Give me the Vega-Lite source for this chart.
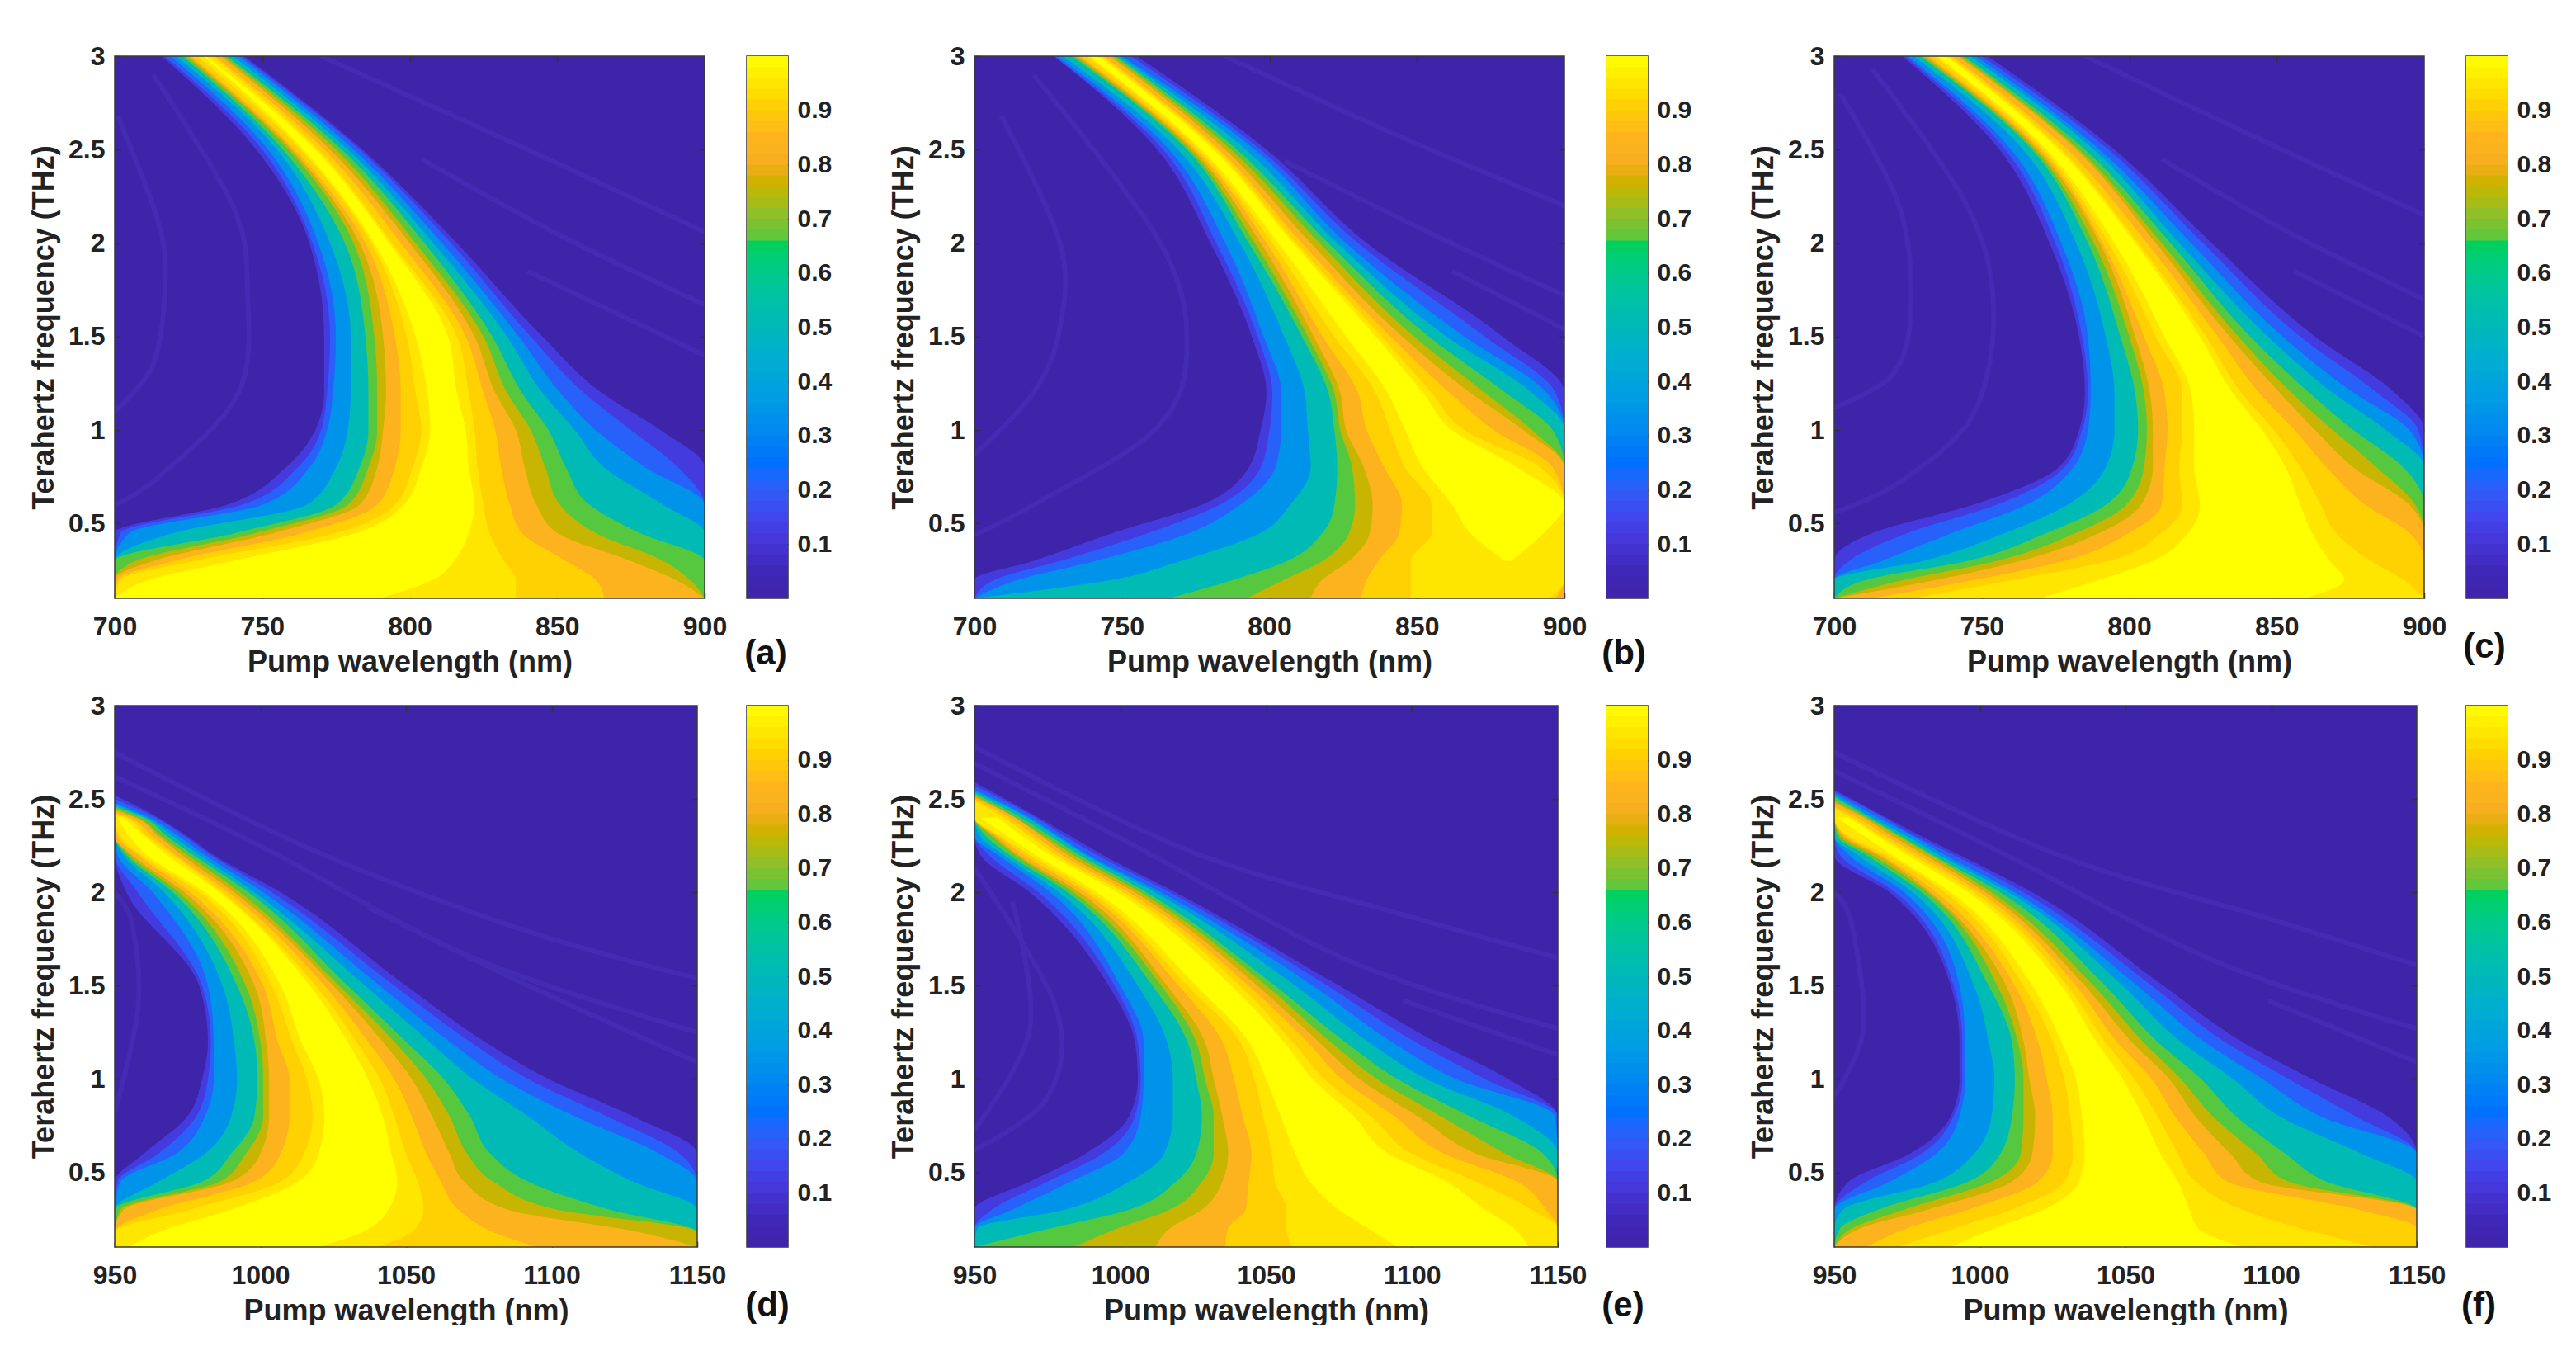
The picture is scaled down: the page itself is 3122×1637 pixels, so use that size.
{"$schema":"https://vega.github.io/schema/vega-lite/v6.json","background":"white","padding":{"left":35,"top":52,"right":0,"bottom":0},"bounds":"flush","align":"none","columns":11,"spacing":{"row":130,"column":0},"resolve":{"scale":{"color":"shared"}},
"config":{"font":"Liberation Sans","axis":{"grid":false,"domain":false,"labelFontSize":32,"labelFontWeight":"bold","labelColor":"#222222","titleFontSize":36,"titleFontWeight":"bold","titleColor":"#222222","tickColor":"#333333","tickWidth":1.5,"tickSize":-7,"labelFlush":false,"labelOverlap":false,"labelBound":false,"zindex":1},"title":{"font":"Liberation Sans","fontWeight":"bold","fontSize":42,"color":"#111111"}},
"datasets":{
"lobes":[
{"p":"a","s":1,"o":1,"x":770,"y":3},{"p":"a","s":1,"o":2,"x":840,"y":2.5},{"p":"a","s":1,"o":3,"x":900,"y":2.06},{"p":"a","s":2,"o":1,"x":804,"y":2.45},{"p":"a","s":2,"o":2,"x":850,"y":2.05},{"p":"a","s":2,"o":3,"x":900,"y":1.67},{"p":"a","s":3,"o":1,"x":840,"y":1.85},{"p":"a","s":3,"o":2,"x":900,"y":1.4},{"p":"a","s":4,"o":1,"x":701,"y":2.68},{"p":"a","s":4,"o":2,"x":715,"y":2.1},{"p":"a","s":4,"o":3,"x":717,"y":1.75},{"p":"a","s":4,"o":4,"x":713,"y":1.35},{"p":"a","s":4,"o":5,"x":700,"y":1.1},{"p":"a","s":5,"o":1,"x":713,"y":2.9},{"p":"a","s":5,"o":2,"x":740,"y":2.2},{"p":"a","s":5,"o":3,"x":745,"y":1.75},{"p":"a","s":5,"o":4,"x":742,"y":1.2},{"p":"a","s":5,"o":5,"x":715,"y":0.75},{"p":"a","s":5,"o":6,"x":700,"y":0.6},
{"p":"b","s":1,"o":1,"x":785,"y":3},{"p":"b","s":1,"o":2,"x":840,"y":2.6},{"p":"b","s":1,"o":3,"x":900,"y":2.2},{"p":"b","s":2,"o":1,"x":805,"y":2.44},{"p":"b","s":2,"o":2,"x":855,"y":2.05},{"p":"b","s":2,"o":3,"x":900,"y":1.72},{"p":"b","s":3,"o":1,"x":862,"y":1.85},{"p":"b","s":3,"o":2,"x":900,"y":1.54},{"p":"b","s":4,"o":1,"x":709,"y":2.68},{"p":"b","s":4,"o":2,"x":729,"y":2},{"p":"b","s":4,"o":3,"x":729,"y":1.55},{"p":"b","s":4,"o":4,"x":720,"y":1.2},{"p":"b","s":4,"o":5,"x":700,"y":0.87},{"p":"b","s":5,"o":1,"x":720,"y":2.9},{"p":"b","s":5,"o":2,"x":763,"y":2},{"p":"b","s":5,"o":3,"x":772,"y":1.42},{"p":"b","s":5,"o":4,"x":761,"y":1},{"p":"b","s":5,"o":5,"x":720,"y":0.6},{"p":"b","s":5,"o":6,"x":700,"y":0.44},
{"p":"c","s":1,"o":1,"x":785,"y":3},{"p":"c","s":1,"o":2,"x":845,"y":2.55},{"p":"c","s":1,"o":3,"x":900,"y":2.15},{"p":"c","s":2,"o":1,"x":811,"y":2.45},{"p":"c","s":2,"o":2,"x":855,"y":2.05},{"p":"c","s":2,"o":3,"x":900,"y":1.7},{"p":"c","s":3,"o":1,"x":856,"y":1.85},{"p":"c","s":3,"o":2,"x":900,"y":1.5},{"p":"c","s":4,"o":1,"x":702,"y":2.8},{"p":"c","s":4,"o":2,"x":722,"y":2.2},{"p":"c","s":4,"o":3,"x":726,"y":1.65},{"p":"c","s":4,"o":4,"x":720,"y":1.3},{"p":"c","s":4,"o":5,"x":700,"y":1.12},{"p":"c","s":5,"o":1,"x":713,"y":2.93},{"p":"c","s":5,"o":2,"x":745,"y":2.2},{"p":"c","s":5,"o":3,"x":754,"y":1.65},{"p":"c","s":5,"o":4,"x":747,"y":1.08},{"p":"c","s":5,"o":5,"x":722,"y":0.72},{"p":"c","s":5,"o":6,"x":700,"y":0.56},
{"p":"d","s":1,"o":1,"x":950,"y":2.75},{"p":"d","s":1,"o":2,"x":1019,"y":2.22},{"p":"d","s":1,"o":3,"x":1092,"y":1.79},{"p":"d","s":1,"o":4,"x":1150,"y":1.54},{"p":"d","s":2,"o":1,"x":950,"y":2.62},{"p":"d","s":2,"o":2,"x":1001,"y":2.24},{"p":"d","s":2,"o":3,"x":1073,"y":1.65},{"p":"d","s":2,"o":4,"x":1150,"y":1.25},{"p":"d","s":3,"o":1,"x":1037,"y":1.92},{"p":"d","s":3,"o":2,"x":1092,"y":1.5},{"p":"d","s":3,"o":3,"x":1150,"y":1.09},{"p":"d","s":4,"o":1,"x":950,"y":2},{"p":"d","s":4,"o":2,"x":956,"y":1.83},{"p":"d","s":4,"o":3,"x":958,"y":1.38},{"p":"d","s":4,"o":4,"x":950,"y":0.82},
{"p":"e","s":1,"o":1,"x":950,"y":2.78},{"p":"e","s":1,"o":2,"x":1024,"y":2.22},{"p":"e","s":1,"o":3,"x":1097,"y":1.88},{"p":"e","s":1,"o":4,"x":1150,"y":1.65},{"p":"e","s":2,"o":1,"x":950,"y":2.69},{"p":"e","s":2,"o":2,"x":1006,"y":2.24},{"p":"e","s":2,"o":3,"x":1079,"y":1.63},{"p":"e","s":2,"o":4,"x":1150,"y":1.27},{"p":"e","s":3,"o":1,"x":1097,"y":1.42},{"p":"e","s":3,"o":2,"x":1150,"y":1.13},{"p":"e","s":4,"o":1,"x":963,"y":1.95},{"p":"e","s":4,"o":2,"x":969,"y":1.27},{"p":"e","s":4,"o":3,"x":950,"y":0.73},{"p":"e","s":5,"o":1,"x":950,"y":2.13},{"p":"e","s":5,"o":2,"x":978,"y":1.38},{"p":"e","s":5,"o":3,"x":975,"y":0.9},{"p":"e","s":5,"o":4,"x":950,"y":0.62},
{"p":"f","s":1,"o":1,"x":950,"y":2.75},{"p":"f","s":1,"o":2,"x":1027,"y":2.2},{"p":"f","s":1,"o":3,"x":1099,"y":1.86},{"p":"f","s":1,"o":4,"x":1150,"y":1.61},{"p":"f","s":2,"o":1,"x":950,"y":2.65},{"p":"f","s":2,"o":2,"x":1009,"y":2.2},{"p":"f","s":2,"o":3,"x":1081,"y":1.63},{"p":"f","s":2,"o":4,"x":1150,"y":1.27},{"p":"f","s":3,"o":1,"x":1099,"y":1.42},{"p":"f","s":3,"o":2,"x":1150,"y":1.09},{"p":"f","s":4,"o":1,"x":950,"y":2},{"p":"f","s":4,"o":2,"x":956,"y":1.83},{"p":"f","s":4,"o":3,"x":960,"y":1.27},{"p":"f","s":4,"o":4,"x":950,"y":0.91}
],
"cb":[{"c":0,"d":0.025,"m":0.01},{"c":0.02,"d":0.045,"m":0.03},{"c":0.04,"d":0.065,"m":0.05},{"c":0.06,"d":0.085,"m":0.07},{"c":0.08,"d":0.105,"m":0.09},{"c":0.1,"d":0.125,"m":0.11},{"c":0.12,"d":0.145,"m":0.13},{"c":0.14,"d":0.165,"m":0.15},{"c":0.16,"d":0.185,"m":0.17},{"c":0.18,"d":0.205,"m":0.19},{"c":0.2,"d":0.225,"m":0.21},{"c":0.22,"d":0.245,"m":0.23},{"c":0.24,"d":0.265,"m":0.25},{"c":0.26,"d":0.285,"m":0.27},{"c":0.28,"d":0.305,"m":0.29},{"c":0.3,"d":0.325,"m":0.31},{"c":0.32,"d":0.345,"m":0.33},{"c":0.34,"d":0.365,"m":0.35},{"c":0.36,"d":0.385,"m":0.37},{"c":0.38,"d":0.405,"m":0.39},{"c":0.4,"d":0.425,"m":0.41},{"c":0.42,"d":0.445,"m":0.43},{"c":0.44,"d":0.465,"m":0.45},{"c":0.46,"d":0.485,"m":0.47},{"c":0.48,"d":0.505,"m":0.49},{"c":0.5,"d":0.525,"m":0.51},{"c":0.52,"d":0.545,"m":0.53},{"c":0.54,"d":0.565,"m":0.55},{"c":0.56,"d":0.585,"m":0.57},{"c":0.58,"d":0.605,"m":0.59},{"c":0.6,"d":0.625,"m":0.61},{"c":0.62,"d":0.645,"m":0.63},{"c":0.64,"d":0.665,"m":0.65},{"c":0.66,"d":0.685,"m":0.67},{"c":0.68,"d":0.705,"m":0.69},{"c":0.7,"d":0.725,"m":0.71},{"c":0.72,"d":0.745,"m":0.73},{"c":0.74,"d":0.765,"m":0.75},{"c":0.76,"d":0.785,"m":0.77},{"c":0.78,"d":0.805,"m":0.79},{"c":0.8,"d":0.825,"m":0.81},{"c":0.82,"d":0.845,"m":0.83},{"c":0.84,"d":0.865,"m":0.85},{"c":0.86,"d":0.885,"m":0.87},{"c":0.88,"d":0.905,"m":0.89},{"c":0.9,"d":0.925,"m":0.91},{"c":0.92,"d":0.945,"m":0.93},{"c":0.94,"d":0.965,"m":0.95},{"c":0.96,"d":0.985,"m":0.97},{"c":0.98,"d":1,"m":0.99}],
"a":[
{"v":0.12,"y":3,"l":716,"h":744},{"v":0.12,"y":2.5,"l":748,"h":784},{"v":0.12,"y":2,"l":766,"h":816},{"v":0.12,"y":1.5,"l":771,"h":845},{"v":0.12,"y":1.2,"l":771,"h":865},{"v":0.12,"y":1,"l":768,"h":885},{"v":0.12,"y":0.8,"l":758,"h":900},{"v":0.12,"y":0.6,"l":738,"h":900},{"v":0.12,"y":0.45,"l":700,"h":900},{"v":0.12,"y":0.3,"l":700,"h":900},{"v":0.12,"y":0.2,"l":700,"h":900},{"v":0.12,"y":0.1,"l":700,"h":900},
{"v":0.21,"y":3,"l":717,"h":743},{"v":0.21,"y":2.5,"l":750,"h":783},{"v":0.21,"y":2,"l":767,"h":814},{"v":0.21,"y":1.5,"l":773,"h":841},{"v":0.21,"y":1.2,"l":772,"h":859},{"v":0.21,"y":1,"l":770,"h":875},{"v":0.21,"y":0.8,"l":762,"h":891},{"v":0.21,"y":0.6,"l":743,"h":900},{"v":0.21,"y":0.45,"l":702,"h":900},{"v":0.21,"y":0.3,"l":700,"h":900},{"v":0.21,"y":0.2,"l":700,"h":900},{"v":0.21,"y":0.1,"l":700,"h":900},
{"v":0.34,"y":3,"l":719,"h":742},{"v":0.34,"y":2.5,"l":752,"h":781},{"v":0.34,"y":2,"l":769,"h":811},{"v":0.34,"y":1.5,"l":775,"h":837},{"v":0.34,"y":1.2,"l":774,"h":851},{"v":0.34,"y":1,"l":772,"h":863},{"v":0.34,"y":0.8,"l":766,"h":880},{"v":0.34,"y":0.6,"l":750,"h":900},{"v":0.34,"y":0.45,"l":705,"h":900},{"v":0.34,"y":0.3,"l":700,"h":900},{"v":0.34,"y":0.2,"l":700,"h":900},{"v":0.34,"y":0.1,"l":700,"h":900},
{"v":0.51,"y":3,"l":721,"h":740},{"v":0.51,"y":2.5,"l":755,"h":779},{"v":0.51,"y":2,"l":773,"h":808},{"v":0.51,"y":1.5,"l":780,"h":833},{"v":0.51,"y":1.2,"l":780,"h":845},{"v":0.51,"y":1,"l":779,"h":856},{"v":0.51,"y":0.8,"l":775,"h":866},{"v":0.51,"y":0.6,"l":765,"h":886},{"v":0.51,"y":0.45,"l":720,"h":900},{"v":0.51,"y":0.3,"l":700,"h":900},{"v":0.51,"y":0.2,"l":700,"h":900},{"v":0.51,"y":0.1,"l":700,"h":900},
{"v":0.66,"y":3,"l":723,"h":738},{"v":0.66,"y":2.5,"l":757,"h":777},{"v":0.66,"y":2,"l":778,"h":805},{"v":0.66,"y":1.5,"l":785,"h":828},{"v":0.66,"y":1.2,"l":786,"h":838},{"v":0.66,"y":1,"l":786,"h":847},{"v":0.66,"y":0.8,"l":783,"h":853},{"v":0.66,"y":0.6,"l":775,"h":861},{"v":0.66,"y":0.45,"l":741,"h":878},{"v":0.66,"y":0.3,"l":700,"h":900},{"v":0.66,"y":0.2,"l":700,"h":900},{"v":0.66,"y":0.1,"l":700,"h":900},
{"v":0.76,"y":3,"l":724,"h":737},{"v":0.76,"y":2.5,"l":759,"h":775},{"v":0.76,"y":2,"l":781,"h":802},{"v":0.76,"y":1.5,"l":788,"h":825},{"v":0.76,"y":1.2,"l":789,"h":833},{"v":0.76,"y":1,"l":789,"h":841},{"v":0.76,"y":0.8,"l":786,"h":846},{"v":0.76,"y":0.6,"l":779,"h":851},{"v":0.76,"y":0.45,"l":748,"h":863},{"v":0.76,"y":0.3,"l":707,"h":886},{"v":0.76,"y":0.2,"l":700,"h":895},{"v":0.76,"y":0.1,"l":700,"h":900},
{"v":0.84,"y":3,"l":725,"h":736},{"v":0.84,"y":2.5,"l":760,"h":773},{"v":0.84,"y":2,"l":783,"h":800},{"v":0.84,"y":1.5,"l":791,"h":822},{"v":0.84,"y":1.2,"l":792,"h":829},{"v":0.84,"y":1,"l":791,"h":836},{"v":0.84,"y":0.8,"l":789,"h":839},{"v":0.84,"y":0.6,"l":783,"h":843},{"v":0.84,"y":0.45,"l":754,"h":850},{"v":0.84,"y":0.3,"l":713,"h":875},{"v":0.84,"y":0.2,"l":700,"h":890},{"v":0.84,"y":0.1,"l":700,"h":900},
{"v":0.91,"y":3,"l":726,"h":734},{"v":0.91,"y":2.5,"l":761,"h":771},{"v":0.91,"y":2,"l":785,"h":797},{"v":0.91,"y":1.5,"l":795,"h":819},{"v":0.91,"y":1.2,"l":797,"h":825},{"v":0.91,"y":1,"l":797,"h":829},{"v":0.91,"y":0.8,"l":795,"h":831},{"v":0.91,"y":0.6,"l":789,"h":834},{"v":0.91,"y":0.45,"l":764,"h":838},{"v":0.91,"y":0.3,"l":720,"h":853},{"v":0.91,"y":0.2,"l":701,"h":863},{"v":0.91,"y":0.1,"l":700,"h":866},
{"v":0.95,"y":3,"l":728,"h":733},{"v":0.95,"y":2.5,"l":763,"h":769},{"v":0.95,"y":2,"l":787,"h":794},{"v":0.95,"y":1.5,"l":799,"h":816},{"v":0.95,"y":1.2,"l":802,"h":820},{"v":0.95,"y":1,"l":804,"h":822},{"v":0.95,"y":0.8,"l":801,"h":823},{"v":0.95,"y":0.6,"l":795,"h":825},{"v":0.95,"y":0.45,"l":775,"h":827},{"v":0.95,"y":0.3,"l":727,"h":832},{"v":0.95,"y":0.2,"l":702,"h":836},{"v":0.95,"y":0.1,"l":700,"h":836},
{"v":1,"y":3,"l":730,"h":731},{"v":1,"y":2.5,"l":764,"h":768},{"v":1,"y":2,"l":788,"h":793},{"v":1,"y":1.5,"l":802,"h":813},{"v":1,"y":1.2,"l":806,"h":816},{"v":1,"y":1,"l":807,"h":819},{"v":1,"y":0.8,"l":804,"h":820},{"v":1,"y":0.6,"l":798,"h":822},{"v":1,"y":0.45,"l":782,"h":820},{"v":1,"y":0.3,"l":740,"h":815},{"v":1,"y":0.2,"l":712,"h":808},{"v":1,"y":0.1,"l":700,"h":790}
],
"b":[
{"v":0.12,"y":3,"l":727,"h":755},{"v":0.12,"y":2.5,"l":762,"h":799},{"v":0.12,"y":2,"l":780,"h":833},{"v":0.12,"y":1.5,"l":794,"h":879},{"v":0.12,"y":1.2,"l":799,"h":900},{"v":0.12,"y":1,"l":797,"h":900},{"v":0.12,"y":0.8,"l":793,"h":900},{"v":0.12,"y":0.6,"l":777,"h":900},{"v":0.12,"y":0.45,"l":747,"h":900},{"v":0.12,"y":0.3,"l":720,"h":900},{"v":0.12,"y":0.2,"l":700,"h":900},{"v":0.12,"y":0.1,"l":700,"h":900},
{"v":0.21,"y":3,"l":727,"h":753},{"v":0.21,"y":2.5,"l":764,"h":797},{"v":0.21,"y":2,"l":782,"h":830},{"v":0.21,"y":1.5,"l":796,"h":873},{"v":0.21,"y":1.2,"l":801,"h":897},{"v":0.21,"y":1,"l":800,"h":900},{"v":0.21,"y":0.8,"l":797,"h":900},{"v":0.21,"y":0.6,"l":783,"h":900},{"v":0.21,"y":0.45,"l":759,"h":900},{"v":0.21,"y":0.3,"l":729,"h":900},{"v":0.21,"y":0.2,"l":707,"h":900},{"v":0.21,"y":0.1,"l":700,"h":900},
{"v":0.34,"y":3,"l":728,"h":750},{"v":0.34,"y":2.5,"l":766,"h":795},{"v":0.34,"y":2,"l":785,"h":826},{"v":0.34,"y":1.5,"l":798,"h":866},{"v":0.34,"y":1.2,"l":804,"h":894},{"v":0.34,"y":1,"l":804,"h":900},{"v":0.34,"y":0.8,"l":802,"h":900},{"v":0.34,"y":0.6,"l":790,"h":900},{"v":0.34,"y":0.45,"l":773,"h":900},{"v":0.34,"y":0.3,"l":741,"h":900},{"v":0.34,"y":0.2,"l":715,"h":900},{"v":0.34,"y":0.1,"l":700,"h":900},
{"v":0.51,"y":3,"l":730,"h":749},{"v":0.51,"y":2.5,"l":769,"h":792},{"v":0.51,"y":2,"l":790,"h":823},{"v":0.51,"y":1.5,"l":805,"h":860},{"v":0.51,"y":1.2,"l":812,"h":889},{"v":0.51,"y":1,"l":813,"h":900},{"v":0.51,"y":0.8,"l":814,"h":900},{"v":0.51,"y":0.6,"l":807,"h":900},{"v":0.51,"y":0.45,"l":797,"h":900},{"v":0.51,"y":0.3,"l":770,"h":900},{"v":0.51,"y":0.2,"l":747,"h":900},{"v":0.51,"y":0.1,"l":700,"h":900},
{"v":0.66,"y":3,"l":733,"h":748},{"v":0.66,"y":2.5,"l":772,"h":789},{"v":0.66,"y":2,"l":793,"h":820},{"v":0.66,"y":1.5,"l":811,"h":854},{"v":0.66,"y":1.2,"l":820,"h":880},{"v":0.66,"y":1,"l":822,"h":896},{"v":0.66,"y":0.8,"l":823,"h":900},{"v":0.66,"y":0.6,"l":822,"h":900},{"v":0.66,"y":0.45,"l":818,"h":900},{"v":0.66,"y":0.3,"l":806,"h":900},{"v":0.66,"y":0.2,"l":788,"h":900},{"v":0.66,"y":0.1,"l":766,"h":900},
{"v":0.76,"y":3,"l":734,"h":747},{"v":0.76,"y":2.5,"l":773,"h":787},{"v":0.76,"y":2,"l":795,"h":817},{"v":0.76,"y":1.5,"l":813,"h":849},{"v":0.76,"y":1.2,"l":822,"h":873},{"v":0.76,"y":1,"l":824,"h":889},{"v":0.76,"y":0.8,"l":828,"h":900},{"v":0.76,"y":0.6,"l":829,"h":900},{"v":0.76,"y":0.45,"l":827,"h":900},{"v":0.76,"y":0.3,"l":818,"h":900},{"v":0.76,"y":0.2,"l":805,"h":900},{"v":0.76,"y":0.1,"l":792,"h":900},
{"v":0.84,"y":3,"l":735,"h":746},{"v":0.84,"y":2.5,"l":774,"h":785},{"v":0.84,"y":2,"l":797,"h":814},{"v":0.84,"y":1.5,"l":815,"h":845},{"v":0.84,"y":1.2,"l":824,"h":868},{"v":0.84,"y":1,"l":826,"h":886},{"v":0.84,"y":0.8,"l":832,"h":900},{"v":0.84,"y":0.6,"l":835,"h":900},{"v":0.84,"y":0.45,"l":834,"h":900},{"v":0.84,"y":0.3,"l":827,"h":900},{"v":0.84,"y":0.2,"l":818,"h":900},{"v":0.84,"y":0.1,"l":814,"h":900},
{"v":0.91,"y":3,"l":736,"h":744},{"v":0.91,"y":2.5,"l":775,"h":783},{"v":0.91,"y":2,"l":799,"h":811},{"v":0.91,"y":1.5,"l":818,"h":841},{"v":0.91,"y":1.2,"l":830,"h":861},{"v":0.91,"y":1,"l":833,"h":876},{"v":0.91,"y":0.8,"l":839,"h":896},{"v":0.91,"y":0.6,"l":845,"h":900},{"v":0.91,"y":0.45,"l":844,"h":900},{"v":0.91,"y":0.3,"l":837,"h":900},{"v":0.91,"y":0.2,"l":833,"h":900},{"v":0.91,"y":0.1,"l":831,"h":897},
{"v":0.95,"y":3,"l":738,"h":743},{"v":0.95,"y":2.5,"l":776,"h":782},{"v":0.95,"y":2,"l":801,"h":809},{"v":0.95,"y":1.5,"l":822,"h":838},{"v":0.95,"y":1.2,"l":836,"h":855},{"v":0.95,"y":1,"l":841,"h":866},{"v":0.95,"y":0.8,"l":846,"h":892},{"v":0.95,"y":0.6,"l":855,"h":900},{"v":0.95,"y":0.45,"l":855,"h":900},{"v":0.95,"y":0.3,"l":848,"h":900},{"v":0.95,"y":0.2,"l":848,"h":900},{"v":0.95,"y":0.1,"l":848,"h":895},
{"v":1,"y":3,"l":739,"h":742},{"v":1,"y":2.5,"l":777,"h":781},{"v":1,"y":2,"l":803,"h":808},{"v":1,"y":1.5,"l":826,"h":836},{"v":1,"y":1.2,"l":840,"h":852},{"v":1,"y":1,"l":846,"h":862},{"v":1,"y":0.8,"l":852,"h":884},{"v":1,"y":0.6,"l":862,"h":900},{"v":1,"y":0.45,"l":868,"h":893},{"v":1,"y":0.3,"l":880,"h":882}
],
"c":[
{"v":0.12,"y":3,"l":723,"h":752},{"v":0.12,"y":2.5,"l":756,"h":795},{"v":0.12,"y":2,"l":773,"h":828},{"v":0.12,"y":1.5,"l":783,"h":863},{"v":0.12,"y":1.2,"l":785,"h":890},{"v":0.12,"y":1,"l":783,"h":900},{"v":0.12,"y":0.8,"l":776,"h":900},{"v":0.12,"y":0.6,"l":747,"h":900},{"v":0.12,"y":0.45,"l":713,"h":900},{"v":0.12,"y":0.3,"l":700,"h":900},{"v":0.12,"y":0.2,"l":700,"h":900},{"v":0.12,"y":0.1,"l":700,"h":900},
{"v":0.21,"y":3,"l":724,"h":750},{"v":0.21,"y":2.5,"l":758,"h":793},{"v":0.21,"y":2,"l":775,"h":825},{"v":0.21,"y":1.5,"l":784,"h":858},{"v":0.21,"y":1.2,"l":786,"h":884},{"v":0.21,"y":1,"l":784,"h":898},{"v":0.21,"y":0.8,"l":778,"h":900},{"v":0.21,"y":0.6,"l":755,"h":900},{"v":0.21,"y":0.45,"l":725,"h":900},{"v":0.21,"y":0.3,"l":705,"h":900},{"v":0.21,"y":0.2,"l":700,"h":900},{"v":0.21,"y":0.1,"l":700,"h":900},
{"v":0.34,"y":3,"l":725,"h":748},{"v":0.34,"y":2.5,"l":760,"h":790},{"v":0.34,"y":2,"l":777,"h":821},{"v":0.34,"y":1.5,"l":786,"h":852},{"v":0.34,"y":1.2,"l":787,"h":876},{"v":0.34,"y":1,"l":786,"h":895},{"v":0.34,"y":0.8,"l":781,"h":900},{"v":0.34,"y":0.6,"l":765,"h":900},{"v":0.34,"y":0.45,"l":740,"h":900},{"v":0.34,"y":0.3,"l":716,"h":900},{"v":0.34,"y":0.2,"l":700,"h":900},{"v":0.34,"y":0.1,"l":700,"h":900},
{"v":0.51,"y":3,"l":727,"h":746},{"v":0.51,"y":2.5,"l":764,"h":788},{"v":0.51,"y":2,"l":782,"h":817},{"v":0.51,"y":1.5,"l":792,"h":847},{"v":0.51,"y":1.2,"l":795,"h":869},{"v":0.51,"y":1,"l":795,"h":887},{"v":0.51,"y":0.8,"l":792,"h":900},{"v":0.51,"y":0.6,"l":779,"h":900},{"v":0.51,"y":0.45,"l":758,"h":900},{"v":0.51,"y":0.3,"l":730,"h":900},{"v":0.51,"y":0.2,"l":700,"h":900},{"v":0.51,"y":0.1,"l":700,"h":900},
{"v":0.66,"y":3,"l":729,"h":744},{"v":0.66,"y":2.5,"l":767,"h":785},{"v":0.66,"y":2,"l":786,"h":814},{"v":0.66,"y":1.5,"l":797,"h":841},{"v":0.66,"y":1.2,"l":802,"h":861},{"v":0.66,"y":1,"l":803,"h":876},{"v":0.66,"y":0.8,"l":801,"h":893},{"v":0.66,"y":0.6,"l":792,"h":900},{"v":0.66,"y":0.45,"l":772,"h":900},{"v":0.66,"y":0.3,"l":745,"h":900},{"v":0.66,"y":0.2,"l":711,"h":900},{"v":0.66,"y":0.1,"l":700,"h":900},
{"v":0.76,"y":3,"l":730,"h":743},{"v":0.76,"y":2.5,"l":768,"h":783},{"v":0.76,"y":2,"l":788,"h":811},{"v":0.76,"y":1.5,"l":800,"h":837},{"v":0.76,"y":1.2,"l":805,"h":855},{"v":0.76,"y":1,"l":806,"h":869},{"v":0.76,"y":0.8,"l":805,"h":884},{"v":0.76,"y":0.6,"l":799,"h":897},{"v":0.76,"y":0.45,"l":782,"h":900},{"v":0.76,"y":0.3,"l":755,"h":900},{"v":0.76,"y":0.2,"l":724,"h":900},{"v":0.76,"y":0.1,"l":700,"h":900},
{"v":0.84,"y":3,"l":731,"h":742},{"v":0.84,"y":2.5,"l":769,"h":782},{"v":0.84,"y":2,"l":790,"h":809},{"v":0.84,"y":1.5,"l":802,"h":834},{"v":0.84,"y":1.2,"l":807,"h":851},{"v":0.84,"y":1,"l":808,"h":863},{"v":0.84,"y":0.8,"l":808,"h":876},{"v":0.84,"y":0.6,"l":804,"h":895},{"v":0.84,"y":0.45,"l":790,"h":900},{"v":0.84,"y":0.3,"l":763,"h":900},{"v":0.84,"y":0.2,"l":735,"h":900},{"v":0.84,"y":0.1,"l":700,"h":900},
{"v":0.91,"y":3,"l":732,"h":740},{"v":0.91,"y":2.5,"l":770,"h":779},{"v":0.91,"y":2,"l":791,"h":806},{"v":0.91,"y":1.5,"l":805,"h":830},{"v":0.91,"y":1.2,"l":812,"h":844},{"v":0.91,"y":1,"l":813,"h":856},{"v":0.91,"y":0.8,"l":812,"h":867},{"v":0.91,"y":0.6,"l":811,"h":880},{"v":0.91,"y":0.45,"l":800,"h":895},{"v":0.91,"y":0.3,"l":778,"h":900},{"v":0.91,"y":0.2,"l":748,"h":900},{"v":0.91,"y":0.1,"l":713,"h":900},
{"v":0.95,"y":3,"l":734,"h":739},{"v":0.95,"y":2.5,"l":771,"h":777},{"v":0.95,"y":2,"l":793,"h":803},{"v":0.95,"y":1.5,"l":809,"h":826},{"v":0.95,"y":1.2,"l":818,"h":838},{"v":0.95,"y":1,"l":818,"h":849},{"v":0.95,"y":0.8,"l":817,"h":858},{"v":0.95,"y":0.6,"l":818,"h":865},{"v":0.95,"y":0.45,"l":811,"h":870},{"v":0.95,"y":0.3,"l":793,"h":882},{"v":0.95,"y":0.2,"l":761,"h":893},{"v":0.95,"y":0.1,"l":727,"h":900},
{"v":1,"y":3,"l":735,"h":738},{"v":1,"y":2.5,"l":772,"h":776},{"v":1,"y":2,"l":795,"h":802},{"v":1,"y":1.5,"l":812,"h":824},{"v":1,"y":1.2,"l":821,"h":835},{"v":1,"y":1,"l":822,"h":845},{"v":1,"y":0.8,"l":822,"h":853},{"v":1,"y":0.6,"l":824,"h":858},{"v":1,"y":0.45,"l":820,"h":862},{"v":1,"y":0.3,"l":808,"h":868},{"v":1,"y":0.2,"l":790,"h":873},{"v":1,"y":0.1,"l":770,"h":860}
],
"d":[
{"v":0.12,"y":2.52,"l":950,"h":950},{"v":0.12,"y":2.4,"l":950,"h":965},{"v":0.12,"y":2.3,"l":950,"h":975},{"v":0.12,"y":2.2,"l":950,"h":984},{"v":0.12,"y":2,"l":954,"h":1007},{"v":0.12,"y":1.5,"l":979,"h":1050},{"v":0.12,"y":1.2,"l":982,"h":1077},{"v":0.12,"y":1,"l":980,"h":1099},{"v":0.12,"y":0.8,"l":975,"h":1128},{"v":0.12,"y":0.6,"l":960,"h":1150},{"v":0.12,"y":0.45,"l":950,"h":1150},{"v":0.12,"y":0.3,"l":950,"h":1150},{"v":0.12,"y":0.18,"l":950,"h":1150},{"v":0.12,"y":0.1,"l":950,"h":1150},
{"v":0.21,"y":2.5,"l":950,"h":950},{"v":0.21,"y":2.4,"l":950,"h":964},{"v":0.21,"y":2.3,"l":950,"h":974},{"v":0.21,"y":2.2,"l":950,"h":983},{"v":0.21,"y":2,"l":958,"h":1004},{"v":0.21,"y":1.5,"l":980,"h":1046},{"v":0.21,"y":1.2,"l":983,"h":1072},{"v":0.21,"y":1,"l":982,"h":1092},{"v":0.21,"y":0.8,"l":978,"h":1119},{"v":0.21,"y":0.6,"l":965,"h":1144},{"v":0.21,"y":0.45,"l":951,"h":1150},{"v":0.21,"y":0.3,"l":950,"h":1150},{"v":0.21,"y":0.18,"l":950,"h":1150},{"v":0.21,"y":0.1,"l":950,"h":1150},
{"v":0.34,"y":2.48,"l":950,"h":950},{"v":0.34,"y":2.4,"l":950,"h":962},{"v":0.34,"y":2.3,"l":950,"h":972},{"v":0.34,"y":2.2,"l":951,"h":981},{"v":0.34,"y":2,"l":963,"h":1001},{"v":0.34,"y":1.5,"l":982,"h":1041},{"v":0.34,"y":1.2,"l":984,"h":1065},{"v":0.34,"y":1,"l":984,"h":1083},{"v":0.34,"y":0.8,"l":981,"h":1108},{"v":0.34,"y":0.6,"l":971,"h":1137},{"v":0.34,"y":0.45,"l":952,"h":1150},{"v":0.34,"y":0.3,"l":950,"h":1150},{"v":0.34,"y":0.18,"l":950,"h":1150},{"v":0.34,"y":0.1,"l":950,"h":1150},
{"v":0.51,"y":2.47,"l":950,"h":950},{"v":0.51,"y":2.4,"l":950,"h":961},{"v":0.51,"y":2.3,"l":950,"h":970},{"v":0.51,"y":2.2,"l":953,"h":979},{"v":0.51,"y":2,"l":967,"h":998},{"v":0.51,"y":1.5,"l":987,"h":1036},{"v":0.51,"y":1.2,"l":991,"h":1058},{"v":0.51,"y":1,"l":992,"h":1073},{"v":0.51,"y":0.8,"l":990,"h":1092},{"v":0.51,"y":0.6,"l":981,"h":1110},{"v":0.51,"y":0.45,"l":965,"h":1128},{"v":0.51,"y":0.3,"l":950,"h":1150},{"v":0.51,"y":0.18,"l":950,"h":1150},{"v":0.51,"y":0.1,"l":950,"h":1150},
{"v":0.66,"y":2.46,"l":950,"h":950},{"v":0.66,"y":2.4,"l":950,"h":960},{"v":0.66,"y":2.3,"l":950,"h":968},{"v":0.66,"y":2.2,"l":954,"h":977},{"v":0.66,"y":2,"l":970,"h":996},{"v":0.66,"y":1.5,"l":992,"h":1030},{"v":0.66,"y":1.2,"l":998,"h":1050},{"v":0.66,"y":1,"l":999,"h":1063},{"v":0.66,"y":0.8,"l":998,"h":1072},{"v":0.66,"y":0.6,"l":990,"h":1079},{"v":0.66,"y":0.45,"l":980,"h":1092},{"v":0.66,"y":0.3,"l":950,"h":1120},{"v":0.66,"y":0.18,"l":950,"h":1150},{"v":0.66,"y":0.1,"l":950,"h":1150},
{"v":0.76,"y":2.45,"l":950,"h":950},{"v":0.76,"y":2.4,"l":950,"h":958},{"v":0.76,"y":2.3,"l":950,"h":966},{"v":0.76,"y":2.2,"l":955,"h":975},{"v":0.76,"y":2,"l":972,"h":993},{"v":0.76,"y":1.5,"l":995,"h":1027},{"v":0.76,"y":1.2,"l":1000,"h":1046},{"v":0.76,"y":1,"l":1001,"h":1057},{"v":0.76,"y":0.8,"l":1001,"h":1065},{"v":0.76,"y":0.6,"l":995,"h":1071},{"v":0.76,"y":0.45,"l":986,"h":1080},{"v":0.76,"y":0.3,"l":952,"h":1102},{"v":0.76,"y":0.18,"l":950,"h":1150},{"v":0.76,"y":0.1,"l":950,"h":1150},
{"v":0.84,"y":2.44,"l":950,"h":950},{"v":0.84,"y":2.4,"l":950,"h":957},{"v":0.84,"y":2.3,"l":950,"h":965},{"v":0.84,"y":2.2,"l":956,"h":973},{"v":0.84,"y":2,"l":974,"h":991},{"v":0.84,"y":1.5,"l":998,"h":1025},{"v":0.84,"y":1.2,"l":1002,"h":1042},{"v":0.84,"y":1,"l":1003,"h":1052},{"v":0.84,"y":0.8,"l":1003,"h":1059},{"v":0.84,"y":0.6,"l":1000,"h":1065},{"v":0.84,"y":0.45,"l":990,"h":1070},{"v":0.84,"y":0.3,"l":953,"h":1085},{"v":0.84,"y":0.18,"l":950,"h":1130},{"v":0.84,"y":0.1,"l":950,"h":1150},
{"v":0.91,"y":2.43,"l":950,"h":950},{"v":0.91,"y":2.4,"l":950,"h":955},{"v":0.91,"y":2.3,"l":951,"h":963},{"v":0.91,"y":2.2,"l":958,"h":971},{"v":0.91,"y":2,"l":976,"h":989},{"v":0.91,"y":1.5,"l":1001,"h":1022},{"v":0.91,"y":1.2,"l":1006,"h":1037},{"v":0.91,"y":1,"l":1010,"h":1046},{"v":0.91,"y":0.8,"l":1010,"h":1052},{"v":0.91,"y":0.6,"l":1007,"h":1057},{"v":0.91,"y":0.45,"l":998,"h":1062},{"v":0.91,"y":0.3,"l":965,"h":1068},{"v":0.91,"y":0.18,"l":950,"h":1080},{"v":0.91,"y":0.1,"l":950,"h":1095},
{"v":0.95,"y":2.42,"l":950,"h":950},{"v":0.95,"y":2.4,"l":950,"h":954},{"v":0.95,"y":2.3,"l":952,"h":961},{"v":0.95,"y":2.2,"l":959,"h":970},{"v":0.95,"y":2,"l":979,"h":987},{"v":0.95,"y":1.5,"l":1004,"h":1019},{"v":0.95,"y":1.2,"l":1011,"h":1033},{"v":0.95,"y":1,"l":1016,"h":1041},{"v":0.95,"y":0.8,"l":1018,"h":1046},{"v":0.95,"y":0.6,"l":1015,"h":1050},{"v":0.95,"y":0.45,"l":1007,"h":1054},{"v":0.95,"y":0.3,"l":976,"h":1056},{"v":0.95,"y":0.18,"l":950,"h":1052},{"v":0.95,"y":0.1,"l":950,"h":1040},
{"v":1,"y":2.4,"l":951,"h":953},{"v":1,"y":2.2,"l":961,"h":968},{"v":1,"y":2,"l":981,"h":986},{"v":1,"y":1.5,"l":1007,"h":1017},{"v":1,"y":1.2,"l":1014,"h":1030},{"v":1,"y":1,"l":1020,"h":1037},{"v":1,"y":0.8,"l":1022,"h":1042},{"v":1,"y":0.6,"l":1020,"h":1045},{"v":1,"y":0.45,"l":1013,"h":1047},{"v":1,"y":0.3,"l":990,"h":1044},{"v":1,"y":0.18,"l":965,"h":1035},{"v":1,"y":0.1,"l":955,"h":1020}
],
"e":[
{"v":0.12,"y":2.59,"l":950,"h":950},{"v":0.12,"y":2.4,"l":950,"h":972},{"v":0.12,"y":2.3,"l":950,"h":983},{"v":0.12,"y":2.2,"l":952,"h":994},{"v":0.12,"y":2,"l":969,"h":1019},{"v":0.12,"y":1.5,"l":996,"h":1075},{"v":0.12,"y":1.2,"l":1005,"h":1108},{"v":0.12,"y":1,"l":1006,"h":1133},{"v":0.12,"y":0.8,"l":1003,"h":1150},{"v":0.12,"y":0.6,"l":988,"h":1150},{"v":0.12,"y":0.45,"l":969,"h":1150},{"v":0.12,"y":0.3,"l":950,"h":1150},{"v":0.12,"y":0.2,"l":950,"h":1150},{"v":0.12,"y":0.1,"l":950,"h":1150},
{"v":0.21,"y":2.57,"l":950,"h":950},{"v":0.21,"y":2.4,"l":950,"h":971},{"v":0.21,"y":2.3,"l":950,"h":981},{"v":0.21,"y":2.2,"l":955,"h":992},{"v":0.21,"y":2,"l":972,"h":1017},{"v":0.21,"y":1.5,"l":998,"h":1071},{"v":0.21,"y":1.2,"l":1006,"h":1101},{"v":0.21,"y":1,"l":1007,"h":1125},{"v":0.21,"y":0.8,"l":1005,"h":1150},{"v":0.21,"y":0.6,"l":994,"h":1150},{"v":0.21,"y":0.45,"l":975,"h":1150},{"v":0.21,"y":0.3,"l":956,"h":1150},{"v":0.21,"y":0.2,"l":950,"h":1150},{"v":0.21,"y":0.1,"l":950,"h":1150},
{"v":0.34,"y":2.55,"l":950,"h":950},{"v":0.34,"y":2.4,"l":950,"h":969},{"v":0.34,"y":2.3,"l":950,"h":979},{"v":0.34,"y":2.2,"l":958,"h":989},{"v":0.34,"y":2,"l":976,"h":1014},{"v":0.34,"y":1.5,"l":1000,"h":1066},{"v":0.34,"y":1.2,"l":1008,"h":1093},{"v":0.34,"y":1,"l":1008,"h":1115},{"v":0.34,"y":0.8,"l":1007,"h":1149},{"v":0.34,"y":0.6,"l":1001,"h":1150},{"v":0.34,"y":0.45,"l":983,"h":1150},{"v":0.34,"y":0.3,"l":963,"h":1150},{"v":0.34,"y":0.2,"l":950,"h":1150},{"v":0.34,"y":0.1,"l":950,"h":1150},
{"v":0.51,"y":2.54,"l":950,"h":950},{"v":0.51,"y":2.4,"l":950,"h":968},{"v":0.51,"y":2.3,"l":952,"h":978},{"v":0.51,"y":2.2,"l":960,"h":988},{"v":0.51,"y":2,"l":979,"h":1012},{"v":0.51,"y":1.5,"l":1006,"h":1060},{"v":0.51,"y":1.2,"l":1016,"h":1085},{"v":0.51,"y":1,"l":1018,"h":1105},{"v":0.51,"y":0.8,"l":1018,"h":1135},{"v":0.51,"y":0.6,"l":1015,"h":1150},{"v":0.51,"y":0.45,"l":1003,"h":1150},{"v":0.51,"y":0.3,"l":981,"h":1150},{"v":0.51,"y":0.2,"l":951,"h":1150},{"v":0.51,"y":0.1,"l":950,"h":1150},
{"v":0.66,"y":2.53,"l":950,"h":950},{"v":0.66,"y":2.4,"l":950,"h":966},{"v":0.66,"y":2.3,"l":954,"h":976},{"v":0.66,"y":2.2,"l":962,"h":986},{"v":0.66,"y":2,"l":982,"h":1009},{"v":0.66,"y":1.5,"l":1011,"h":1053},{"v":0.66,"y":1.2,"l":1023,"h":1077},{"v":0.66,"y":1,"l":1026,"h":1095},{"v":0.66,"y":0.8,"l":1028,"h":1120},{"v":0.66,"y":0.6,"l":1026,"h":1145},{"v":0.66,"y":0.45,"l":1019,"h":1150},{"v":0.66,"y":0.3,"l":1003,"h":1150},{"v":0.66,"y":0.2,"l":976,"h":1150},{"v":0.66,"y":0.1,"l":950,"h":1150},
{"v":0.76,"y":2.52,"l":950,"h":950},{"v":0.76,"y":2.4,"l":950,"h":964},{"v":0.76,"y":2.3,"l":956,"h":974},{"v":0.76,"y":2.2,"l":964,"h":984},{"v":0.76,"y":2,"l":984,"h":1007},{"v":0.76,"y":1.5,"l":1014,"h":1050},{"v":0.76,"y":1.2,"l":1026,"h":1072},{"v":0.76,"y":1,"l":1029,"h":1088},{"v":0.76,"y":0.8,"l":1032,"h":1110},{"v":0.76,"y":0.6,"l":1032,"h":1132},{"v":0.76,"y":0.45,"l":1028,"h":1150},{"v":0.76,"y":0.3,"l":1017,"h":1150},{"v":0.76,"y":0.2,"l":999,"h":1150},{"v":0.76,"y":0.1,"l":984,"h":1150},
{"v":0.84,"y":2.51,"l":950,"h":950},{"v":0.84,"y":2.4,"l":950,"h":964},{"v":0.84,"y":2.3,"l":957,"h":973},{"v":0.84,"y":2.2,"l":965,"h":982},{"v":0.84,"y":2,"l":986,"h":1005},{"v":0.84,"y":1.5,"l":1016,"h":1047},{"v":0.84,"y":1.2,"l":1029,"h":1068},{"v":0.84,"y":1,"l":1032,"h":1082},{"v":0.84,"y":0.8,"l":1035,"h":1102},{"v":0.84,"y":0.6,"l":1037,"h":1122},{"v":0.84,"y":0.45,"l":1035,"h":1150},{"v":0.84,"y":0.3,"l":1028,"h":1150},{"v":0.84,"y":0.2,"l":1017,"h":1150},{"v":0.84,"y":0.1,"l":1012,"h":1150},
{"v":0.91,"y":2.5,"l":950,"h":950},{"v":0.91,"y":2.4,"l":950,"h":962},{"v":0.91,"y":2.3,"l":958,"h":971},{"v":0.91,"y":2.2,"l":967,"h":980},{"v":0.91,"y":2,"l":988,"h":1003},{"v":0.91,"y":1.5,"l":1020,"h":1044},{"v":0.91,"y":1.2,"l":1035,"h":1064},{"v":0.91,"y":1,"l":1039,"h":1076},{"v":0.91,"y":0.8,"l":1042,"h":1094},{"v":0.91,"y":0.6,"l":1045,"h":1111},{"v":0.91,"y":0.45,"l":1044,"h":1136},{"v":0.91,"y":0.3,"l":1043,"h":1146},{"v":0.91,"y":0.2,"l":1037,"h":1150},{"v":0.91,"y":0.1,"l":1036,"h":1150},
{"v":0.95,"y":2.49,"l":950,"h":950},{"v":0.95,"y":2.4,"l":950,"h":960},{"v":0.95,"y":2.3,"l":959,"h":969},{"v":0.95,"y":2.2,"l":969,"h":978},{"v":0.95,"y":2,"l":990,"h":1001},{"v":0.95,"y":1.5,"l":1023,"h":1041},{"v":0.95,"y":1.2,"l":1041,"h":1059},{"v":0.95,"y":1,"l":1046,"h":1070},{"v":0.95,"y":0.8,"l":1049,"h":1086},{"v":0.95,"y":0.6,"l":1052,"h":1100},{"v":0.95,"y":0.45,"l":1053,"h":1122},{"v":0.95,"y":0.3,"l":1057,"h":1141},{"v":0.95,"y":0.2,"l":1057,"h":1150},{"v":0.95,"y":0.1,"l":1059,"h":1150},
{"v":1,"y":2.4,"l":952,"h":958},{"v":1,"y":2.2,"l":971,"h":976},{"v":1,"y":2,"l":992,"h":999},{"v":1,"y":1.5,"l":1026,"h":1038},{"v":1,"y":1.2,"l":1044,"h":1056},{"v":1,"y":1,"l":1050,"h":1066},{"v":1,"y":0.8,"l":1055,"h":1080},{"v":1,"y":0.6,"l":1060,"h":1092},{"v":1,"y":0.45,"l":1065,"h":1112},{"v":1,"y":0.3,"l":1075,"h":1125},{"v":1,"y":0.2,"l":1085,"h":1135},{"v":1,"y":0.1,"l":1095,"h":1140}
],
"f":[
{"v":0.12,"y":2.55,"l":950,"h":950},{"v":0.12,"y":2.4,"l":950,"h":968},{"v":0.12,"y":2.3,"l":950,"h":980},{"v":0.12,"y":2.2,"l":950,"h":993},{"v":0.12,"y":2,"l":969,"h":1018},{"v":0.12,"y":1.5,"l":990,"h":1063},{"v":0.12,"y":1.2,"l":993,"h":1090},{"v":0.12,"y":1,"l":993,"h":1114},{"v":0.12,"y":0.8,"l":990,"h":1140},{"v":0.12,"y":0.6,"l":976,"h":1150},{"v":0.12,"y":0.45,"l":955,"h":1150},{"v":0.12,"y":0.3,"l":950,"h":1150},{"v":0.12,"y":0.2,"l":950,"h":1150},{"v":0.12,"y":0.1,"l":950,"h":1150},
{"v":0.21,"y":2.54,"l":950,"h":950},{"v":0.21,"y":2.4,"l":950,"h":967},{"v":0.21,"y":2.3,"l":950,"h":978},{"v":0.21,"y":2.2,"l":952,"h":991},{"v":0.21,"y":2,"l":971,"h":1015},{"v":0.21,"y":1.5,"l":991,"h":1059},{"v":0.21,"y":1.2,"l":994,"h":1084},{"v":0.21,"y":1,"l":994,"h":1106},{"v":0.21,"y":0.8,"l":991,"h":1129},{"v":0.21,"y":0.6,"l":980,"h":1150},{"v":0.21,"y":0.45,"l":961,"h":1150},{"v":0.21,"y":0.3,"l":950,"h":1150},{"v":0.21,"y":0.2,"l":950,"h":1150},{"v":0.21,"y":0.1,"l":950,"h":1150},
{"v":0.34,"y":2.53,"l":950,"h":950},{"v":0.34,"y":2.4,"l":950,"h":965},{"v":0.34,"y":2.3,"l":950,"h":977},{"v":0.34,"y":2.2,"l":955,"h":988},{"v":0.34,"y":2,"l":974,"h":1012},{"v":0.34,"y":1.5,"l":993,"h":1054},{"v":0.34,"y":1.2,"l":995,"h":1077},{"v":0.34,"y":1,"l":995,"h":1097},{"v":0.34,"y":0.8,"l":993,"h":1117},{"v":0.34,"y":0.6,"l":985,"h":1150},{"v":0.34,"y":0.45,"l":969,"h":1150},{"v":0.34,"y":0.3,"l":950,"h":1150},{"v":0.34,"y":0.2,"l":950,"h":1150},{"v":0.34,"y":0.1,"l":950,"h":1150},
{"v":0.51,"y":2.52,"l":950,"h":950},{"v":0.51,"y":2.4,"l":950,"h":963},{"v":0.51,"y":2.3,"l":950,"h":975},{"v":0.51,"y":2.2,"l":958,"h":986},{"v":0.51,"y":2,"l":977,"h":1010},{"v":0.51,"y":1.5,"l":998,"h":1049},{"v":0.51,"y":1.2,"l":1003,"h":1069},{"v":0.51,"y":1,"l":1005,"h":1087},{"v":0.51,"y":0.8,"l":1004,"h":1103},{"v":0.51,"y":0.6,"l":998,"h":1131},{"v":0.51,"y":0.45,"l":985,"h":1150},{"v":0.51,"y":0.3,"l":953,"h":1150},{"v":0.51,"y":0.2,"l":950,"h":1150},{"v":0.51,"y":0.1,"l":950,"h":1150},
{"v":0.66,"y":2.51,"l":950,"h":950},{"v":0.66,"y":2.4,"l":950,"h":962},{"v":0.66,"y":2.3,"l":951,"h":973},{"v":0.66,"y":2.2,"l":961,"h":984},{"v":0.66,"y":2,"l":980,"h":1007},{"v":0.66,"y":1.5,"l":1003,"h":1043},{"v":0.66,"y":1.2,"l":1011,"h":1061},{"v":0.66,"y":1,"l":1012,"h":1076},{"v":0.66,"y":0.8,"l":1011,"h":1088},{"v":0.66,"y":0.6,"l":1007,"h":1105},{"v":0.66,"y":0.45,"l":996,"h":1119},{"v":0.66,"y":0.3,"l":965,"h":1150},{"v":0.66,"y":0.2,"l":952,"h":1150},{"v":0.66,"y":0.1,"l":950,"h":1150},
{"v":0.76,"y":2.49,"l":950,"h":950},{"v":0.76,"y":2.4,"l":950,"h":961},{"v":0.76,"y":2.3,"l":952,"h":972},{"v":0.76,"y":2.2,"l":963,"h":983},{"v":0.76,"y":2,"l":982,"h":1004},{"v":0.76,"y":1.5,"l":1006,"h":1039},{"v":0.76,"y":1.2,"l":1013,"h":1056},{"v":0.76,"y":1,"l":1015,"h":1069},{"v":0.76,"y":0.8,"l":1015,"h":1080},{"v":0.76,"y":0.6,"l":1014,"h":1095},{"v":0.76,"y":0.45,"l":1004,"h":1106},{"v":0.76,"y":0.3,"l":974,"h":1150},{"v":0.76,"y":0.2,"l":956,"h":1150},{"v":0.76,"y":0.1,"l":950,"h":1150},
{"v":0.84,"y":2.48,"l":950,"h":950},{"v":0.84,"y":2.4,"l":950,"h":960},{"v":0.84,"y":2.3,"l":953,"h":970},{"v":0.84,"y":2.2,"l":965,"h":981},{"v":0.84,"y":2,"l":983,"h":1002},{"v":0.84,"y":1.5,"l":1009,"h":1036},{"v":0.84,"y":1.2,"l":1015,"h":1052},{"v":0.84,"y":1,"l":1017,"h":1065},{"v":0.84,"y":0.8,"l":1019,"h":1074},{"v":0.84,"y":0.6,"l":1018,"h":1086},{"v":0.84,"y":0.45,"l":1011,"h":1096},{"v":0.84,"y":0.3,"l":982,"h":1150},{"v":0.84,"y":0.2,"l":959,"h":1150},{"v":0.84,"y":0.1,"l":950,"h":1150},
{"v":0.91,"y":2.46,"l":950,"h":950},{"v":0.91,"y":2.4,"l":950,"h":958},{"v":0.91,"y":2.3,"l":954,"h":968},{"v":0.91,"y":2.2,"l":966,"h":979},{"v":0.91,"y":2,"l":985,"h":1000},{"v":0.91,"y":1.5,"l":1012,"h":1033},{"v":0.91,"y":1.2,"l":1020,"h":1047},{"v":0.91,"y":1,"l":1023,"h":1059},{"v":0.91,"y":0.8,"l":1025,"h":1067},{"v":0.91,"y":0.6,"l":1025,"h":1077},{"v":0.91,"y":0.45,"l":1020,"h":1085},{"v":0.91,"y":0.3,"l":996,"h":1130},{"v":0.91,"y":0.2,"l":975,"h":1150},{"v":0.91,"y":0.1,"l":961,"h":1150},
{"v":0.95,"y":2.45,"l":950,"h":950},{"v":0.95,"y":2.4,"l":950,"h":956},{"v":0.95,"y":2.3,"l":955,"h":966},{"v":0.95,"y":2.2,"l":968,"h":977},{"v":0.95,"y":2,"l":988,"h":998},{"v":0.95,"y":1.5,"l":1015,"h":1030},{"v":0.95,"y":1.2,"l":1025,"h":1043},{"v":0.95,"y":1,"l":1029,"h":1053},{"v":0.95,"y":0.8,"l":1031,"h":1061},{"v":0.95,"y":0.6,"l":1032,"h":1068},{"v":0.95,"y":0.45,"l":1029,"h":1074},{"v":0.95,"y":0.3,"l":1011,"h":1090},{"v":0.95,"y":0.2,"l":991,"h":1110},{"v":0.95,"y":0.1,"l":972,"h":1135},
{"v":1,"y":2.4,"l":951,"h":955},{"v":1,"y":2.2,"l":970,"h":975},{"v":1,"y":2,"l":990,"h":996},{"v":1,"y":1.5,"l":1018,"h":1028},{"v":1,"y":1.2,"l":1028,"h":1040},{"v":1,"y":1,"l":1033,"h":1049},{"v":1,"y":0.8,"l":1035,"h":1056},{"v":1,"y":0.6,"l":1036,"h":1062},{"v":1,"y":0.45,"l":1034,"h":1068},{"v":1,"y":0.3,"l":1022,"h":1072},{"v":1,"y":0.2,"l":1005,"h":1075},{"v":1,"y":0.1,"l":990,"h":1090}
]
},
"concat":[
{"width":715,"height":657,"view":{"fill":"#3e24a8","stroke":null},"resolve":{"axis":{"x":"independent","y":"independent"}},"layer":[
{"data":{"name":"lobes"},"transform":[{"filter":"datum.p=='a'"}],"mark":{"type":"line","stroke":"#432bb4","strokeWidth":6,"clip":true,"interpolate":"cardinal"},"encoding":{"x":{"field":"x","type":"quantitative","axis":null},"y":{"field":"y","type":"quantitative","axis":null},"detail":{"field":"s"},"order":{"field":"o"}}},
{"data":{"name":"a"},"mark":{"type":"area","orient":"horizontal","interpolate":"monotone","clip":true},"encoding":{"x":{"field":"l","type":"quantitative","scale":{"domain":[700,900],"zero":false,"nice":false},"axis":{"values":[700,750,800,850,900],"format":"d","title":"Pump wavelength (nm)","labelPadding":26,"titlePadding":10}},"x2":{"field":"h"},"y":{"field":"y","type":"quantitative","scale":{"domain":[0.1,3],"zero":false,"nice":false},"axis":{"values":[0.5,1,1.5,2,2.5,3],"format":"~g","title":"Terahertz frequency (THz)","labelPadding":19,"titlePadding":10}},"detail":{"field":"v"},"color":{"field":"v","type":"quantitative","legend":null,"scale":{"domain":[0,0.05,0.1,0.15,0.2,0.24,0.3,0.4,0.5,0.6,0.65,0.66,0.7,0.75,0.78,0.8,0.85,0.9,0.95,1],"range":["#3e24a8","#3f28b8","#4533d4","#4146ee","#2f5cf8","#0a6cff","#0a85f0","#05a4dc","#00b8b8","#00c98a","#00d060","#55c840","#85c030","#bcb808","#dcae05","#f5ae20","#ffb41e","#ffcc05","#ffe600","#ffff00"]}}}},
{"data":{"values":[{"x":700,"x2":900,"y":0.1,"y2":3}]},"mark":{"type":"rect","fillOpacity":0,"stroke":"#3a3a3a","strokeWidth":1.5},"encoding":{"x":{"field":"x","type":"quantitative","axis":{"orient":"top","values":[750,800,850],"labels":false,"title":null}},"x2":{"field":"x2"},"y":{"field":"y","type":"quantitative","axis":{"orient":"right","values":[0.5,1,1.5,2,2.5],"labels":false,"title":null}},"y2":{"field":"y2"}}}
]},
{"width":51,"height":657,"view":{"stroke":null},"data":{"values":[]},"mark":"rect","encoding":{}},
{"width":50,"height":657,"view":{"stroke":"#333333","strokeWidth":1.5},"data":{"name":"cb"},"title":{"text":"(a)","orient":"bottom","dx":-2,"offset":47},"mark":"rect","encoding":{"y":{"field":"c","type":"quantitative","scale":{"domain":[0,1],"nice":false},"axis":{"orient":"right","values":[0.1,0.2,0.3,0.4,0.5,0.6,0.7,0.8,0.9],"labelFontSize":30,"labelPadding":18,"title":null}},"y2":{"field":"d"},"color":{"field":"m","type":"quantitative","legend":null}}},
{"width":226,"height":657,"view":{"stroke":null},"data":{"values":[]},"mark":"rect","encoding":{}},
{"width":715,"height":657,"view":{"fill":"#3e24a8","stroke":null},"resolve":{"axis":{"x":"independent","y":"independent"}},"layer":[
{"data":{"name":"lobes"},"transform":[{"filter":"datum.p=='b'"}],"mark":{"type":"line","stroke":"#432bb4","strokeWidth":6,"clip":true,"interpolate":"cardinal"},"encoding":{"x":{"field":"x","type":"quantitative","axis":null},"y":{"field":"y","type":"quantitative","axis":null},"detail":{"field":"s"},"order":{"field":"o"}}},
{"data":{"name":"b"},"mark":{"type":"area","orient":"horizontal","interpolate":"monotone","clip":true},"encoding":{"x":{"field":"l","type":"quantitative","scale":{"domain":[700,900],"zero":false,"nice":false},"axis":{"values":[700,750,800,850,900],"format":"d","title":"Pump wavelength (nm)","labelPadding":26,"titlePadding":10}},"x2":{"field":"h"},"y":{"field":"y","type":"quantitative","scale":{"domain":[0.1,3],"zero":false,"nice":false},"axis":{"values":[0.5,1,1.5,2,2.5,3],"format":"~g","title":"Terahertz frequency (THz)","labelPadding":19,"titlePadding":10}},"detail":{"field":"v"},"color":{"field":"v","type":"quantitative","legend":null}}},
{"data":{"values":[{"x":700,"x2":900,"y":0.1,"y2":3}]},"mark":{"type":"rect","fillOpacity":0,"stroke":"#3a3a3a","strokeWidth":1.5},"encoding":{"x":{"field":"x","type":"quantitative","axis":{"orient":"top","values":[750,800,850],"labels":false,"title":null}},"x2":{"field":"x2"},"y":{"field":"y","type":"quantitative","axis":{"orient":"right","values":[0.5,1,1.5,2,2.5],"labels":false,"title":null}},"y2":{"field":"y2"}}}
]},
{"width":51,"height":657,"view":{"stroke":null},"data":{"values":[]},"mark":"rect","encoding":{}},
{"width":50,"height":657,"view":{"stroke":"#333333","strokeWidth":1.5},"data":{"name":"cb"},"title":{"text":"(b)","orient":"bottom","dx":-4,"offset":47},"mark":"rect","encoding":{"y":{"field":"c","type":"quantitative","scale":{"domain":[0,1],"nice":false},"axis":{"orient":"right","values":[0.1,0.2,0.3,0.4,0.5,0.6,0.7,0.8,0.9],"labelFontSize":30,"labelPadding":18,"title":null}},"y2":{"field":"d"},"color":{"field":"m","type":"quantitative","legend":null}}},
{"width":226,"height":657,"view":{"stroke":null},"data":{"values":[]},"mark":"rect","encoding":{}},
{"width":715,"height":657,"view":{"fill":"#3e24a8","stroke":null},"resolve":{"axis":{"x":"independent","y":"independent"}},"layer":[
{"data":{"name":"lobes"},"transform":[{"filter":"datum.p=='c'"}],"mark":{"type":"line","stroke":"#432bb4","strokeWidth":6,"clip":true,"interpolate":"cardinal"},"encoding":{"x":{"field":"x","type":"quantitative","axis":null},"y":{"field":"y","type":"quantitative","axis":null},"detail":{"field":"s"},"order":{"field":"o"}}},
{"data":{"name":"c"},"mark":{"type":"area","orient":"horizontal","interpolate":"monotone","clip":true},"encoding":{"x":{"field":"l","type":"quantitative","scale":{"domain":[700,900],"zero":false,"nice":false},"axis":{"values":[700,750,800,850,900],"format":"d","title":"Pump wavelength (nm)","labelPadding":26,"titlePadding":10}},"x2":{"field":"h"},"y":{"field":"y","type":"quantitative","scale":{"domain":[0.1,3],"zero":false,"nice":false},"axis":{"values":[0.5,1,1.5,2,2.5,3],"format":"~g","title":"Terahertz frequency (THz)","labelPadding":19,"titlePadding":10}},"detail":{"field":"v"},"color":{"field":"v","type":"quantitative","legend":null}}},
{"data":{"values":[{"x":700,"x2":900,"y":0.1,"y2":3}]},"mark":{"type":"rect","fillOpacity":0,"stroke":"#3a3a3a","strokeWidth":1.5},"encoding":{"x":{"field":"x","type":"quantitative","axis":{"orient":"top","values":[750,800,850],"labels":false,"title":null}},"x2":{"field":"x2"},"y":{"field":"y","type":"quantitative","axis":{"orient":"right","values":[0.5,1,1.5,2,2.5],"labels":false,"title":null}},"y2":{"field":"y2"}}}
]},
{"width":51,"height":657,"view":{"stroke":null},"data":{"values":[]},"mark":"rect","encoding":{}},
{"width":50,"height":657,"view":{"stroke":"#333333","strokeWidth":1.5},"data":{"name":"cb"},"title":{"text":"(c)","orient":"bottom","dx":-3,"offset":39},"mark":"rect","encoding":{"y":{"field":"c","type":"quantitative","scale":{"domain":[0,1],"nice":false},"axis":{"orient":"right","values":[0.1,0.2,0.3,0.4,0.5,0.6,0.7,0.8,0.9],"labelFontSize":30,"labelPadding":18,"title":null}},"y2":{"field":"d"},"color":{"field":"m","type":"quantitative","legend":null}}},
{"width":706,"height":656,"view":{"fill":"#3e24a8","stroke":null},"resolve":{"axis":{"x":"independent","y":"independent"}},"layer":[
{"data":{"name":"lobes"},"transform":[{"filter":"datum.p=='d'"}],"mark":{"type":"line","stroke":"#432bb4","strokeWidth":6,"clip":true,"interpolate":"cardinal"},"encoding":{"x":{"field":"x","type":"quantitative","axis":null},"y":{"field":"y","type":"quantitative","axis":null},"detail":{"field":"s"},"order":{"field":"o"}}},
{"data":{"name":"d"},"mark":{"type":"area","orient":"horizontal","interpolate":"monotone","clip":true},"encoding":{"x":{"field":"l","type":"quantitative","scale":{"domain":[950,1150],"zero":false,"nice":false},"axis":{"values":[950,1000,1050,1100,1150],"format":"d","title":"Pump wavelength (nm)","labelPadding":26,"titlePadding":10}},"x2":{"field":"h"},"y":{"field":"y","type":"quantitative","scale":{"domain":[0.1,3],"zero":false,"nice":false},"axis":{"values":[0.5,1,1.5,2,2.5,3],"format":"~g","title":"Terahertz frequency (THz)","labelPadding":19,"titlePadding":10}},"detail":{"field":"v"},"color":{"field":"v","type":"quantitative","legend":null}}},
{"data":{"values":[{"x":950,"x2":1150,"y":0.1,"y2":3}]},"mark":{"type":"rect","fillOpacity":0,"stroke":"#3a3a3a","strokeWidth":1.5},"encoding":{"x":{"field":"x","type":"quantitative","axis":{"orient":"top","values":[1000,1050,1100],"labels":false,"title":null}},"x2":{"field":"x2"},"y":{"field":"y","type":"quantitative","axis":{"orient":"right","values":[0.5,1,1.5,2,2.5],"labels":false,"title":null}},"y2":{"field":"y2"}}}
]},
{"width":51,"height":656,"view":{"stroke":null},"data":{"values":[]},"mark":"rect","encoding":{}},
{"width":50,"height":656,"view":{"stroke":"#333333","strokeWidth":1.5},"data":{"name":"cb"},"title":{"text":"(d)","orient":"bottom","dx":0,"offset":51},"mark":"rect","encoding":{"y":{"field":"c","type":"quantitative","scale":{"domain":[0,1],"nice":false},"axis":{"orient":"right","values":[0.1,0.2,0.3,0.4,0.5,0.6,0.7,0.8,0.9],"labelFontSize":30,"labelPadding":18,"title":null}},"y2":{"field":"d"},"color":{"field":"m","type":"quantitative","legend":null}}},
{"width":226,"height":656,"view":{"stroke":null},"data":{"values":[]},"mark":"rect","encoding":{}},
{"width":707,"height":656,"view":{"fill":"#3e24a8","stroke":null},"resolve":{"axis":{"x":"independent","y":"independent"}},"layer":[
{"data":{"name":"lobes"},"transform":[{"filter":"datum.p=='e'"}],"mark":{"type":"line","stroke":"#432bb4","strokeWidth":6,"clip":true,"interpolate":"cardinal"},"encoding":{"x":{"field":"x","type":"quantitative","axis":null},"y":{"field":"y","type":"quantitative","axis":null},"detail":{"field":"s"},"order":{"field":"o"}}},
{"data":{"name":"e"},"mark":{"type":"area","orient":"horizontal","interpolate":"monotone","clip":true},"encoding":{"x":{"field":"l","type":"quantitative","scale":{"domain":[950,1150],"zero":false,"nice":false},"axis":{"values":[950,1000,1050,1100,1150],"format":"d","title":"Pump wavelength (nm)","labelPadding":26,"titlePadding":10}},"x2":{"field":"h"},"y":{"field":"y","type":"quantitative","scale":{"domain":[0.1,3],"zero":false,"nice":false},"axis":{"values":[0.5,1,1.5,2,2.5,3],"format":"~g","title":"Terahertz frequency (THz)","labelPadding":19,"titlePadding":10}},"detail":{"field":"v"},"color":{"field":"v","type":"quantitative","legend":null}}},
{"data":{"values":[{"x":950,"x2":1150,"y":0.1,"y2":3}]},"mark":{"type":"rect","fillOpacity":0,"stroke":"#3a3a3a","strokeWidth":1.5},"encoding":{"x":{"field":"x","type":"quantitative","axis":{"orient":"top","values":[1000,1050,1100],"labels":false,"title":null}},"x2":{"field":"x2"},"y":{"field":"y","type":"quantitative","axis":{"orient":"right","values":[0.5,1,1.5,2,2.5],"labels":false,"title":null}},"y2":{"field":"y2"}}}
]},
{"width":51,"height":656,"view":{"stroke":null},"data":{"values":[]},"mark":"rect","encoding":{}},
{"width":50,"height":656,"view":{"stroke":"#333333","strokeWidth":1.5},"data":{"name":"cb"},"title":{"text":"(e)","orient":"bottom","dx":-5,"offset":51},"mark":"rect","encoding":{"y":{"field":"c","type":"quantitative","scale":{"domain":[0,1],"nice":false},"axis":{"orient":"right","values":[0.1,0.2,0.3,0.4,0.5,0.6,0.7,0.8,0.9],"labelFontSize":30,"labelPadding":18,"title":null}},"y2":{"field":"d"},"color":{"field":"m","type":"quantitative","legend":null}}},
{"width":226,"height":656,"view":{"stroke":null},"data":{"values":[]},"mark":"rect","encoding":{}},
{"width":706,"height":656,"view":{"fill":"#3e24a8","stroke":null},"resolve":{"axis":{"x":"independent","y":"independent"}},"layer":[
{"data":{"name":"lobes"},"transform":[{"filter":"datum.p=='f'"}],"mark":{"type":"line","stroke":"#432bb4","strokeWidth":6,"clip":true,"interpolate":"cardinal"},"encoding":{"x":{"field":"x","type":"quantitative","axis":null},"y":{"field":"y","type":"quantitative","axis":null},"detail":{"field":"s"},"order":{"field":"o"}}},
{"data":{"name":"f"},"mark":{"type":"area","orient":"horizontal","interpolate":"monotone","clip":true},"encoding":{"x":{"field":"l","type":"quantitative","scale":{"domain":[950,1150],"zero":false,"nice":false},"axis":{"values":[950,1000,1050,1100,1150],"format":"d","title":"Pump wavelength (nm)","labelPadding":26,"titlePadding":10}},"x2":{"field":"h"},"y":{"field":"y","type":"quantitative","scale":{"domain":[0.1,3],"zero":false,"nice":false},"axis":{"values":[0.5,1,1.5,2,2.5,3],"format":"~g","title":"Terahertz frequency (THz)","labelPadding":19,"titlePadding":10}},"detail":{"field":"v"},"color":{"field":"v","type":"quantitative","legend":null}}},
{"data":{"values":[{"x":950,"x2":1150,"y":0.1,"y2":3}]},"mark":{"type":"rect","fillOpacity":0,"stroke":"#3a3a3a","strokeWidth":1.5},"encoding":{"x":{"field":"x","type":"quantitative","axis":{"orient":"top","values":[1000,1050,1100],"labels":false,"title":null}},"x2":{"field":"x2"},"y":{"field":"y","type":"quantitative","axis":{"orient":"right","values":[0.5,1,1.5,2,2.5],"labels":false,"title":null}},"y2":{"field":"y2"}}}
]},
{"width":51,"height":656,"view":{"stroke":null},"data":{"values":[]},"mark":"rect","encoding":{}},
{"width":50,"height":656,"view":{"stroke":"#333333","strokeWidth":1.5},"data":{"name":"cb"},"title":{"text":"(f)","orient":"bottom","dx":-10,"offset":51},"mark":"rect","encoding":{"y":{"field":"c","type":"quantitative","scale":{"domain":[0,1],"nice":false},"axis":{"orient":"right","values":[0.1,0.2,0.3,0.4,0.5,0.6,0.7,0.8,0.9],"labelFontSize":30,"labelPadding":18,"title":null}},"y2":{"field":"d"},"color":{"field":"m","type":"quantitative","legend":null}}}
]}
